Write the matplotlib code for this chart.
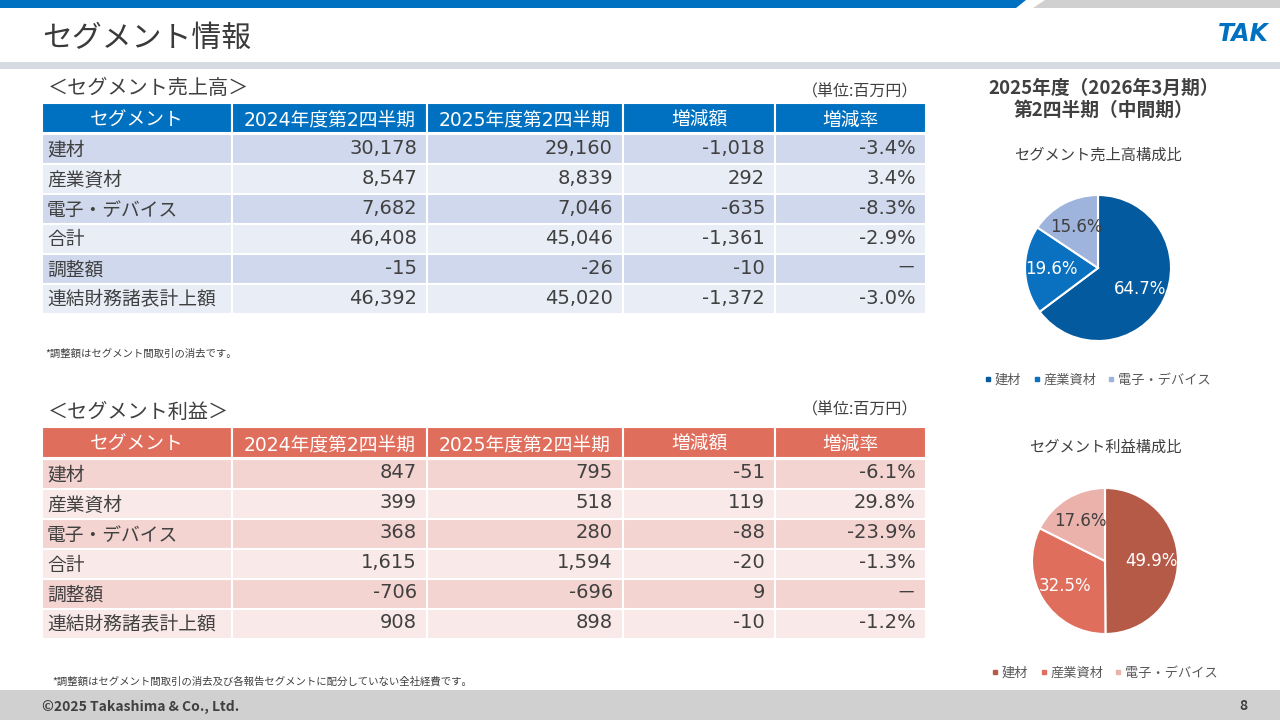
import matplotlib
matplotlib.use('Agg')
import matplotlib.pyplot as plt
from matplotlib.patches import Rectangle, Polygon
from matplotlib.lines import Line2D

plt.rcParams['font.family'] = ['Noto Sans CJK JP', 'DejaVu Sans']
NUM_FONT = ['DejaVu Sans', 'Noto Sans CJK JP']

# table data
columns = ['セグメント', '2024年度第2四半期', '2025年度第2四半期', '増減額', '増減率']
row_names = ['建材', '産業資材', '電子・デバイス', '合計', '調整額', '連結財務諸表計上額']

sales_2024 = ['30,178', '8,547', '7,682', '46,408', '-15', '46,392']
sales_2025 = ['29,160', '8,839', '7,046', '45,046', '-26', '45,020']
sales_diff = ['-1,018', '292', '-635', '-1,361', '-10', '-1,372']
sales_rate = ['-3.4%', '3.4%', '-8.3%', '-2.9%', '－', '-3.0%']

profit_2024 = ['847', '399', '368', '1,615', '-706', '908']
profit_2025 = ['795', '518', '280', '1,594', '-696', '898']
profit_diff = ['-51', '119', '-88', '-20', '9', '-10']
profit_rate = ['-6.1%', '29.8%', '-23.9%', '-1.3%', '－', '-1.2%']

# pie data
pie_labels = ['建材', '産業資材', '電子・デバイス']
sales_share = [64.7, 19.6, 15.6]
profit_share = [49.9, 32.5, 17.6]

blue_pie_colors = ['#045a9e', '#0a70c0', '#9fb4dc']
red_pie_colors = ['#b65a48', '#e06e5d', '#ebb1ab']

TXT = '#404040'

fig = plt.figure(figsize=(12.8, 7.2), dpi=100)
bg = fig.add_axes([0, 0, 1, 1])
bg.set_xlim(0, 1280)
bg.set_ylim(720, 0)
bg.axis('off')

# header bands
bg.add_patch(Polygon([(0, 0), (1026, 0), (1016, 8), (0, 8)], color='#0070c0', lw=0))
bg.add_patch(Polygon([(1045, 0), (1280, 0), (1280, 8), (1033, 8)], color='#d0d0d0', lw=0))
bg.add_patch(Rectangle((0, 62), 1280, 7, color='#d6dae1', lw=0))
bg.text(42, 38, 'セグメント情報', fontsize=21.5, color='#3a3a3a', va='center', ha='left')
bg.text(1243, 34, 'TAK', fontsize=17, color='#0070c0', fontweight='bold',
        style='italic', va='center', ha='center', family='DejaVu Sans')

# footer
bg.add_patch(Rectangle((0, 690), 1280, 30, color='#d0d0d0', lw=0))
bg.text(42, 707, '©2025 Takashima & Co., Ltd.', fontsize=10, fontweight='bold',
        color=TXT, va='center', ha='left')
bg.text(1243, 706, '8', fontsize=10, fontweight='bold', color=TXT, va='center', ha='center')

col_edges = [42, 232, 427, 623, 775, 926]


def draw_table(top, header_h, head_color, row_colors, title, unit_y, cols):
    bg.text(48, top - 15, title, fontsize=14.5, color=TXT, va='center', ha='left')
    bg.text(918, unit_y, '（単位:百万円）', fontsize=11.5, color=TXT, va='center', ha='right')
    for j in range(5):
        x0, x1 = col_edges[j], col_edges[j + 1]
        bg.add_patch(Rectangle((x0, top), x1 - x0, header_h, facecolor=head_color,
                               edgecolor='white', lw=1.5))
        bg.text((x0 + x1) / 2, top + header_h / 2 + 2, columns[j], fontsize=13.5,
                color='white', va='center', ha='center', family=NUM_FONT)
    y = top + header_h + 1
    for i, name in enumerate(row_names):
        color = row_colors[i % 2]
        for j in range(5):
            x0, x1 = col_edges[j], col_edges[j + 1]
            bg.add_patch(Rectangle((x0, y), x1 - x0, 30, facecolor=color,
                                   edgecolor='white', lw=1.5))
        bg.text(47, y + 16, name, fontsize=13.5, color=TXT, va='center', ha='left')
        for j, vals in enumerate(cols):
            bg.text(col_edges[j + 2] - 10, y + 14, vals[i], fontsize=14, color=TXT,
                    va='center', ha='right', family=NUM_FONT)
        y += 30


draw_table(103, 30, '#0070c0', ['#cfd8ec', '#e9edf6'], '＜セグメント売上高＞', 92,
           [sales_2024, sales_2025, sales_diff, sales_rate])
bg.text(45, 354, '*調整額はセグメント間取引の消去です。', fontsize=7.5, color=TXT, va='center')

draw_table(427, 31, '#e06e5d', ['#f3d4d1', '#f9e9e8'], '＜セグメント利益＞', 410,
           [profit_2024, profit_2025, profit_diff, profit_rate])
bg.text(52, 681, '*調整額はセグメント間取引の消去及び各報告セグメントに配分していない全社経費です。',
        fontsize=7.5, color=TXT, va='center')

# right side headings
bg.text(1104, 88, '2025年度（2026年3月期）', fontsize=13.5, fontweight='bold',
        color=TXT, va='center', ha='center')
bg.text(1104, 110, '第2四半期（中間期）', fontsize=13.5, fontweight='bold',
        color=TXT, va='center', ha='center')


def draw_pie(cx, cy, values, colors, title, title_y, legend_y, label_colors):
    r = 80
    ax = fig.add_axes([(cx - r) / 1280, 1 - (cy + r) / 720, 2 * r / 1280, 2 * r / 720])
    wedges, _, autotexts = ax.pie(values, colors=colors, startangle=90, counterclock=False,
                                  radius=73 / 80, autopct='%.1f%%', pctdistance=0.64,
                                  wedgeprops=dict(edgecolor='white', linewidth=1.5),
                                  textprops=dict(fontsize=12, family=NUM_FONT))
    for t, v, c in zip(autotexts, values, label_colors):
        t.set_text(f'{v:.1f}%')
        t.set_color(c)
    ax.set_xlim(-1, 1)
    ax.set_ylim(-1, 1)
    ax.set_aspect('equal')
    ax.axis('off')
    bg.text(cx, title_y, title, fontsize=11, color=TXT, va='center', ha='center')
    handles = [Line2D([], [], marker='s', color=c, linestyle='none', markersize=3.5)
               for c in colors]
    fig.legend(handles, pie_labels, loc='center', ncol=3, frameon=False, fontsize=9.5,
               bbox_to_anchor=(cx / 1280, 1 - legend_y / 720), handlelength=0.5,
               handletextpad=0.25, columnspacing=0.9, labelcolor='#595959')


draw_pie(1098, 268, sales_share, blue_pie_colors, 'セグメント売上高構成比', 155, 380,
         ['white', 'white', '#404040'])
draw_pie(1105, 561, profit_share, red_pie_colors, 'セグメント利益構成比', 447, 673,
         ['white', 'white', '#404040'])

fig.savefig('out.png', dpi=100)
